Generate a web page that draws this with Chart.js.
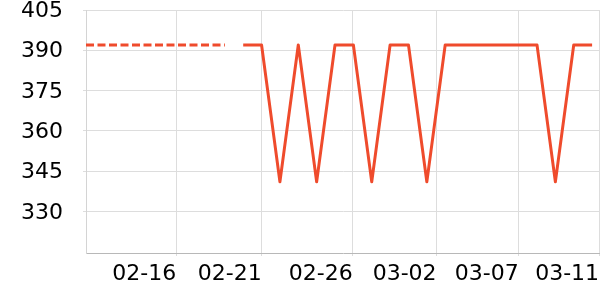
<!DOCTYPE html>
<html>
<head>
<meta charset="utf-8">
<script src="https://cdn.jsdelivr.net/npm/chart.js@4"></script>
<style>
  body { margin: 0; background: #fff; }
</style>
</head>
<body>
<canvas id="grafico" width="600" height="300"></canvas>
<script>
// solid series, one value per point (x = point index)
const rating = [392, 392, 341, 392, 341, 392, 392, 341, 392, 392, 341, 392, 392, 392, 392, 392, 392, 341, 392, 392];
// earlier dashed stretch
const prevX = [-8.56, -1];
const prevRating = [392, 392];
// axis ticks
const xTickPos = [-3.65, 1.01, 5.96, 10.53, 15.0, 19.38];
const xTickLabels = ["02-16", "02-21", "02-26", "03-02", "03-07", "03-11"];
const yTicks = [330, 345, 360, 375, 390, 405];

const cor = "#ef4b2c";
const fonte = { family: "DejaVu Sans", size: 22 };

const solidPts = rating.map((v, i) => ({ x: i, y: v }));
const prevPts = prevRating.map((v, i) => ({ x: prevX[i], y: v }));

new Chart("grafico", {
    type: "line",
    data: {
        datasets: [
            {
                data: prevPts,
                borderColor: cor,
                borderWidth: 3,
                borderDash: [8, 3.5],
                borderCapStyle: "butt",
                pointRadius: 0,
                tension: 0
            },
            {
                data: solidPts,
                borderColor: cor,
                borderWidth: 3,
                borderJoinStyle: "round",
                pointRadius: 0,
                tension: 0
            }
        ]
    },
    options: {
        responsive: false,
        animation: false,
        devicePixelRatio: 1,
        layout: { padding: { top: 10, right: 0, left: 0, bottom: 0 } },
        plugins: { legend: { display: false }, tooltip: { enabled: false } },
        scales: {
            x: {
                type: "linear",
                min: -8.56,
                max: 19.43,
                afterBuildTicks: (s) => { s.ticks = xTickPos.map(v => ({ value: v })); },
                afterFit: (s) => { s.height = 47; s.paddingLeft = 0; s.paddingRight = 0; },
                grid: { color: "#dddddd", tickLength: 3 },
                border: { color: "#b8b8b8" },
                ticks: {
                    align: "end",
                    maxRotation: 0,
                    autoSkip: false,
                    padding: 5,
                    color: "#000",
                    font: fonte,
                    callback: (v, i) => xTickLabels[i]
                }
            },
            y: {
                min: 314.5,
                max: 405,
                afterBuildTicks: (s) => { s.ticks = yTicks.map(v => ({ value: v })); },
                afterFit: (s) => { s.width = 86; s.paddingTop = 0; s.paddingBottom = 0; },
                grid: { color: "#dddddd", tickLength: 3 },
                border: { color: "#d4d4d4" },
                ticks: {
                    padding: 20,
                    labelOffset: 1.5,
                    color: "#000",
                    font: fonte,
                    callback: (v) => v
                }
            }
        }
    }
});
</script>
</body>
</html>
